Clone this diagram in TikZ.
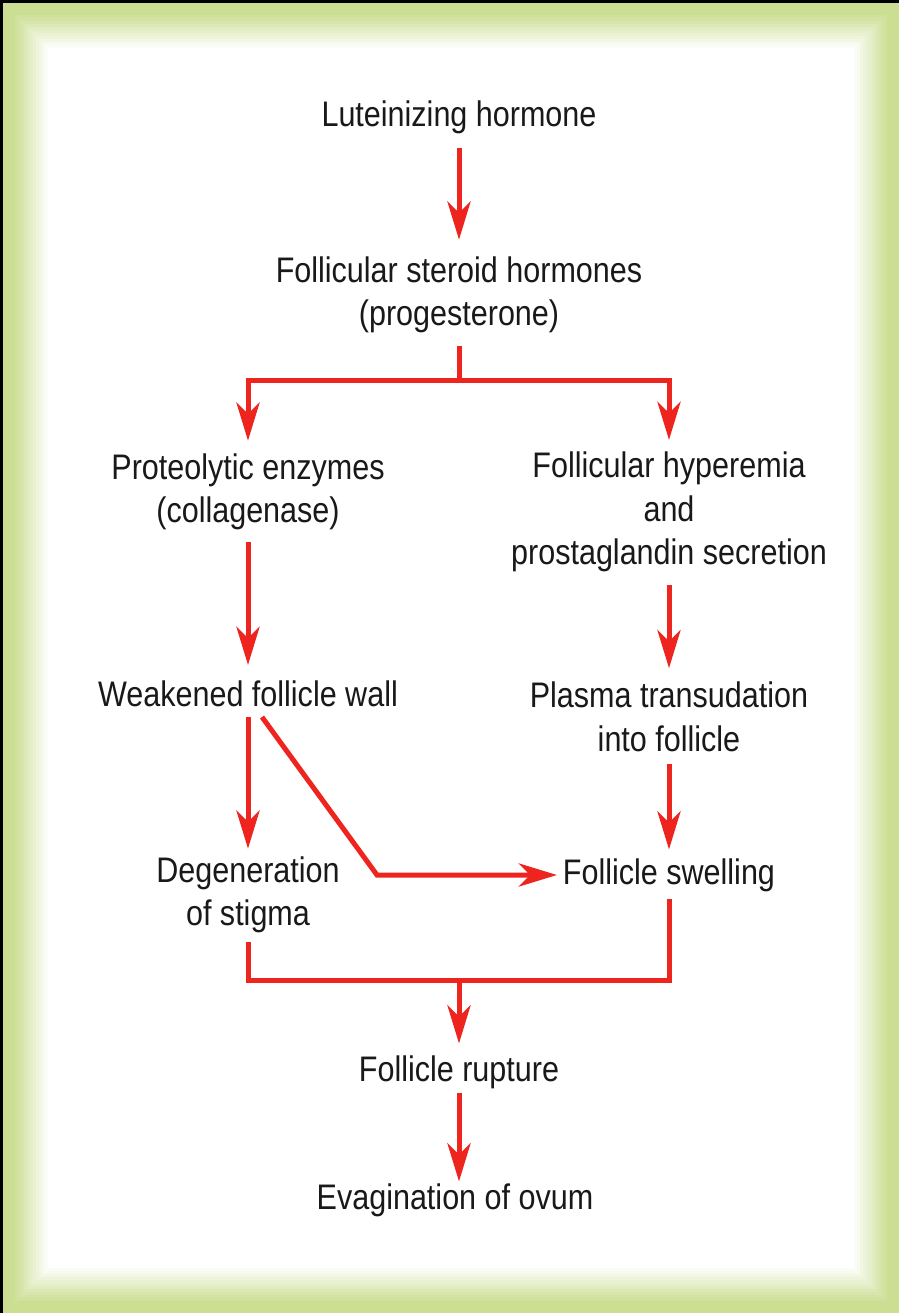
\documentclass[tikz,border=0pt]{standalone}
\usepackage{fontspec}
\setmainfont{Liberation Sans}[FakeStretch=0.86]
\usetikzlibrary{arrows.meta}
\definecolor{arrred}{RGB}{238,36,30}
\definecolor{bgreen}{RGB}{200,220,140}
\tikzset{
  lbl/.style={inner sep=0pt, outer sep=0pt, align=center,
    font=\fontsize{35.5}{43.5}\selectfont, text=black!90},
  link/.style={draw=arrred, line width=5pt, line join=miter},
  tip/.tip={Stealth[length=38pt,width=23pt,inset=11pt]},
  arr/.style={link, -tip},
}
\begin{document}
\begin{tikzpicture}[x=1pt,y=-1pt]
\useasboundingbox (0,0) rectangle (899,1313);
% frame
\fill[black] (0,0) rectangle (899,1313);
\foreach \i in {0,...,15}{
  \pgfmathtruncatemacro\p{(\i<4) ? 95 : max(0,95-(\i-3)*8)}
  \fill[bgreen!\p!white] (3+3*\i,3+3*\i) rectangle (899-3*\i,1313-3*\i);
}
\fill[white] (48,48) rectangle (851,1265);

% nodes
\node[lbl] (lh)  at (459,117)  {Luteinizing hormone};
\node[lbl] (fsh) at (459,295)  {Follicular steroid hormones\\(progesterone)};
\node[lbl] (pe)  at (248,492)  {Proteolytic enzymes\\(collagenase)};
\node[lbl] (fh)  at (669,512)  {Follicular hyperemia\\and\\prostaglandin secretion};
\node[lbl] (wfw) at (248,694)  {Weakened follicle wall};
\node[lbl] (pt)  at (669,717)  {Plasma transudation\\into follicle};
\node[lbl] (dos) at (248,895)  {Degeneration\\of stigma};
\node[lbl] (fs)  at (669,875)  {Follicle swelling};
\node[lbl] (fr)  at (459,1072) {Follicle rupture};
\node[lbl] (eo)  at (455,1200) {Evagination of ovum};

% connectors
\coordinate (j1) at (459,380);
\coordinate (bend) at (377,875);
\coordinate (j2) at (459,980);

\draw[arr, shorten <=14pt, shorten >=17pt] (lh.south) -- (fsh.north);
\draw[link, shorten <=13pt] (fsh.south) -- (j1);
\draw[link, tip-tip, shorten <=13pt, shorten >=12pt] (pe.north) |- (j1) -| (fh.north);
\draw[arr, shorten <=12pt, shorten >=16pt] (pe.south) -- (wfw.north);
\draw[arr, shorten <=13pt, shorten >=14pt] (fh.south) -- (pt.north);
\draw[arr, shorten <=10pt, shorten >=8pt] (wfw.south) -- (dos.north);
\draw[arr, shorten <=12pt, shorten >=9pt] (pt.south) -- (fs.north);
\draw[arr, shorten >=6pt] ([xshift=14pt,yshift=-10pt]wfw.south) -- (bend) -- (fs.west |- bend);
\draw[link, shorten <=9pt, shorten >=7pt] (dos.south) |- (j2) -| (fs.south);
\draw[arr, shorten >=12pt] (j2) -- (fr.north);
\draw[arr, shorten <=4pt, shorten >=2pt] (fr.south) -- (fr.south |- eo.north);
\end{tikzpicture}
\end{document}
